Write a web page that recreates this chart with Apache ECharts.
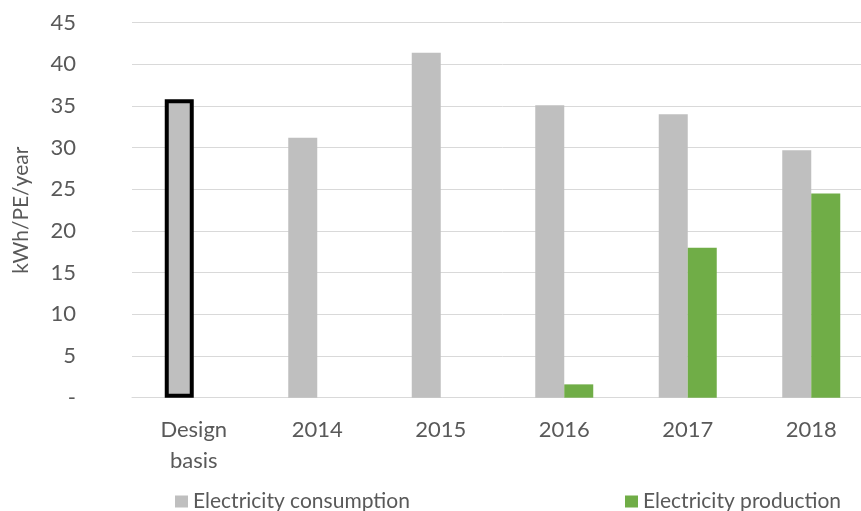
<!DOCTYPE html>
<html>
<head>
<meta charset="utf-8">
<script src="https://cdn.jsdelivr.net/npm/echarts@6/dist/echarts.min.js"></script>
<style>
  html, body { margin: 0; padding: 0; background: #fff; overflow: hidden; }
  /* drawing surface is a little wider than the window; the plot runs past the right edge */
  #chart { width: 880px; height: 511px; }
</style>
</head>
<body>
<div id="chart"></div>
<script>
// Electricity use and on-site production per population equivalent
const categories = ['Design\nbasis', '2014', '2015', '2016', '2017', '2018'];
const consumption = [35.8, 31.2, 41.4, 35.1, 34.0, 29.7];
const production = [null, null, null, 1.6, 18.0, 24.5];
const yTicks = [0, 5, 10, 15, 20, 25, 30, 35, 40, 45];

const FONT = 'Lato, "Open Sans", sans-serif';
const TEXT = '#595959';

const consumptionData = consumption.map((v, i) => i === 0
  ? { value: v, itemStyle: { borderColor: '#000', borderWidth: 4 } }
  : v);

const chart = echarts.init(document.getElementById('chart'), null, { renderer: 'canvas' });
chart.setOption({
  animation: false,
  grid: { left: 132, width: 741, top: 22.7, height: 375, containLabel: false },
  legend: [
    {
      data: ['Electricity consumption'],
      left: 170, top: 486,
      icon: 'rect', itemWidth: 13, itemHeight: 12, itemGap: 6,
      textStyle: { fontFamily: FONT, fontSize: 21, color: TEXT }
    },
    {
      data: ['Electricity production'],
      left: 620, top: 486,
      icon: 'rect', itemWidth: 13, itemHeight: 12, itemGap: 6,
      textStyle: { fontFamily: FONT, fontSize: 21, color: TEXT }
    }
  ],
  xAxis: {
    type: 'category',
    data: categories,
    axisLine: { show: true, lineStyle: { color: '#d9d9d9', width: 1 } },
    axisTick: { show: false },
    axisLabel: {
      fontFamily: FONT, fontSize: 22, color: TEXT, margin: 17,
      lineHeight: 31, verticalAlign: 'top'
    }
  },
  yAxis: {
    type: 'value',
    min: 0, max: 45, interval: 5,
    name: 'kWh/PE/year',
    nameLocation: 'middle',
    nameGap: 100,
    nameTextStyle: { fontFamily: FONT, fontSize: 21, color: TEXT },
    axisLine: { show: false },
    axisTick: { show: false },
    splitLine: { lineStyle: { color: '#d9d9d9', width: 1 } },
    axisLabel: {
      fontFamily: FONT, fontSize: 22, color: TEXT, margin: 56,
      formatter: v => (yTicks.includes(v) ? (v === 0 ? '-' : String(v)) : '')
    }
  },
  series: [
    {
      name: 'Electricity consumption',
      type: 'bar',
      data: consumptionData,
      barWidth: 29,
      barGap: '0%',
      itemStyle: { color: '#bfbfbf' }
    },
    {
      name: 'Electricity production',
      type: 'bar',
      data: production,
      barWidth: 29,
      barGap: '0%',
      itemStyle: { color: '#70ad47' }
    }
  ]
});
</script>
</body>
</html>
